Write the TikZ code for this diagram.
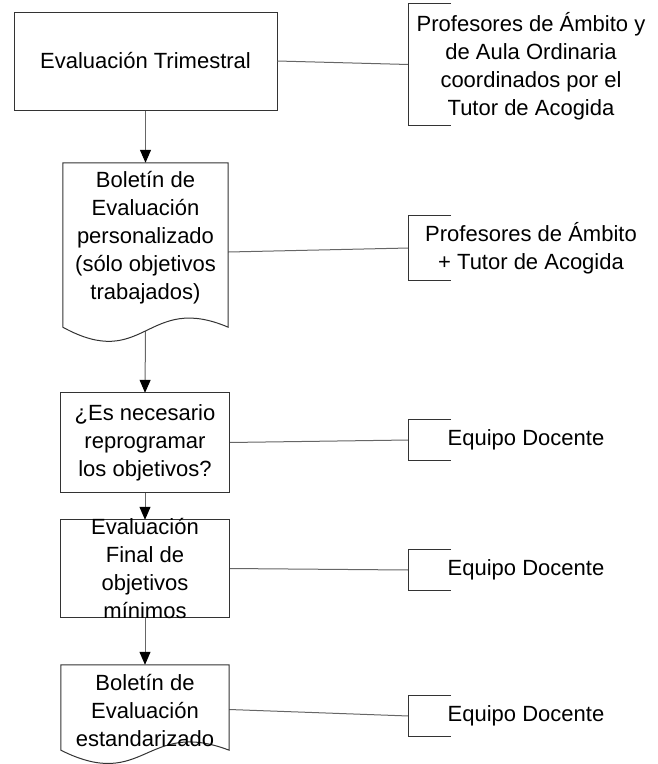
\documentclass[tikz,border=0pt]{standalone}
\usepackage{fontspec}
\setmainfont{Liberation Sans}
\usetikzlibrary{arrows.meta,calc}
\tikzset{
  boxline/.style={draw=black!80, line width=1pt},
  conn/.style={draw=black!60, line width=1pt},
  flowarrow/.style={conn, -{Triangle[length=13pt,width=11pt,color=black]}},
  txt/.style={align=center, inner sep=0pt, font=\fontsize{22}{28}\selectfont},
  procbox/.style={boxline, fill=white, rectangle, inner sep=0pt},
  holder/.style={rectangle, inner sep=0pt, draw=none},
}
\begin{document}
\begin{tikzpicture}[x=1pt,y=-1pt]
\useasboundingbox (0,0) rectangle (658,764);
% main flow shapes
\node[procbox, minimum width=263pt, minimum height=98pt] (b1) at (145.5,61) {};
\node[txt] (t1) at (b1.center) {Evaluación Trimestral};
\node[holder, minimum width=165pt, minimum height=164pt] (b2) at (145.5,245) {};
\node[holder, minimum width=168pt, minimum height=99pt] (b3) at (145,442.5) {};
\node[holder, minimum width=168pt, minimum height=97pt] (b4) at (145,568.5) {};
\node[holder, minimum width=168pt, minimum height=85pt] (b5) at (145,707.5) {};
% brackets
\node[holder, minimum width=42pt, minimum height=121pt] (k1) at (430,64.5) {};
\node[holder, minimum width=42pt, minimum height=64pt] (k2) at (430,248) {};
\node[holder, minimum width=42pt, minimum height=40pt] (k3) at (430,440) {};
\node[holder, minimum width=42pt, minimum height=40pt] (k4) at (430,570) {};
\node[holder, minimum width=42pt, minimum height=40pt] (k5) at (430,716) {};
% connectors
\draw[flowarrow] (b1.south) -- (b2.north);
\draw[flowarrow] ($(b2.south)+(0,4)$) -- (b3.north);
\draw[flowarrow] (b3.south) -- (b4.north);
\draw[flowarrow] (b4.south) -- (b5.north);
\draw[conn] (b1.east) -- (k1.west);
\draw[conn] ($(b2.east)+(0,7)$) -- (k2.west);
\draw[conn] (b3.east) -- (k3.west);
\draw[conn] (b4.east) -- (k4.west);
\draw[conn] ($(b5.east)+(0,2)$) -- (k5.west);
% shapes drawn over
\draw[boxline, fill=white] (b2.north west) -- (b2.north east) -- (b2.south east)
  .. controls +(-82,-35) and +(82,45) .. (b2.south west) -- cycle;
\draw[boxline, fill=white] (b3.north west) rectangle (b3.south east);
\draw[boxline, fill=white] (b4.north west) rectangle (b4.south east);
\draw[boxline, fill=white] (b5.north west) -- (b5.north east) -- (b5.south east)
  .. controls +(-84,-32) and +(84,42) .. (b5.south west) -- cycle;
\foreach \k in {k1,k2,k3,k4,k5}{
  \draw[boxline] (\k.north east) -- (\k.north west) -- (\k.south west) -- (\k.south east);
}
% texts
\node[txt] (t2) at (145.5,238) {Boletín de\\Evaluación\\personalizado\\(sólo objetivos\\trabajados)};
\node[txt] (t3) at (b3.center) {¿Es necesario\\reprogramar\\los objetivos?};
\node[txt] (t4) at (145,568) {Evaluación\\Final de\\objetivos\\mínimos};
\node[txt] (t5) at (145,710) {Boletín de\\Evaluación\\estandarizado};
\node[txt] (a1) at (531,66) {Profesores de Ámbito y\\de Aula Ordinaria\\coordinados por el\\Tutor de Acogida};
\node[txt] (a2) at (531,248) {Profesores de Ámbito\\+ Tutor de Acogida};
\node[txt] (a3) at (526,440) {Equipo Docente};
\node[txt] (a4) at (526,570) {Equipo Docente};
\node[txt] (a5) at (526,716) {Equipo Docente};
\end{tikzpicture}
\end{document}
